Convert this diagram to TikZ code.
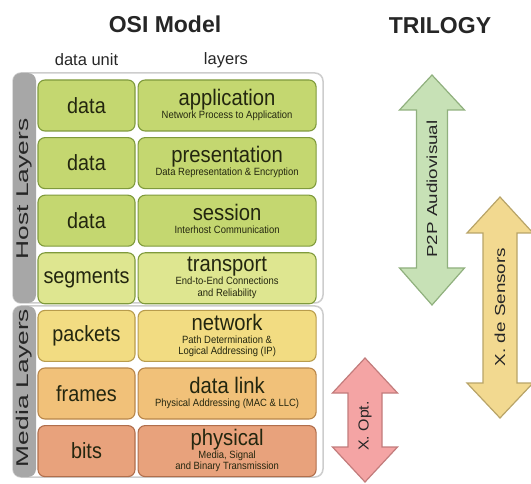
\documentclass[tikz,border=0pt]{standalone}
\usepackage{fontspec}
\setmainfont{Liberation Sans}[FakeStretch=0.9]
\newfontfamily\titlefont{Liberation Sans}
\usepackage{xcolor}
\usepackage{tikz}
\usetikzlibrary{positioning}

\definecolor{hostfill}{HTML}{C4D770}
\definecolor{hostdraw}{HTML}{7F9A3C}
\definecolor{transfill}{HTML}{DEE690}
\definecolor{netfill}{HTML}{F2DC82}
\definecolor{netdraw}{HTML}{B89C4C}
\definecolor{linkfill}{HTML}{F1C179}
\definecolor{linkdraw}{HTML}{B8864A}
\definecolor{physfill}{HTML}{E8A27C}
\definecolor{physdraw}{HTML}{B06E4C}
\definecolor{inkdark}{HTML}{23260F}
\definecolor{barfill}{HTML}{A7A7A7}
\definecolor{frameline}{HTML}{CDCDCD}
\definecolor{p2pfill}{HTML}{C7E1B6}
\definecolor{p2pdraw}{HTML}{90B07E}
\definecolor{sensfill}{HTML}{F2D990}
\definecolor{sensdraw}{HTML}{B8A468}
\definecolor{optfill}{HTML}{F4A4A4}
\definecolor{optdraw}{HTML}{C27C7C}

\newcommand{\layertxt}[2]{\begin{tabular}{@{}c@{}}{\fontsize{22.5}{22}\selectfont #1}\\[1.5pt]\begin{tabular}{@{}c@{}}#2\end{tabular}\end{tabular}}

\tikzset{
  rowbox/.style={rectangle, rounded corners=7pt, line width=1.1pt, minimum height=51pt, inner sep=0pt, text=inkdark},
  unit/.style={rowbox, minimum width=97pt, font=\fontsize{22}{24}\selectfont},
  layer/.style={rowbox, minimum width=178pt, font=\fontsize{10.5}{11.5}\selectfont},
  host/.style={fill=hostfill, draw=hostdraw},
  trans/.style={fill=transfill, draw=hostdraw},
  net/.style={fill=netfill, draw=netdraw},
  link/.style={fill=linkfill, draw=linkdraw},
  phys/.style={fill=physfill, draw=physdraw},
  bartext/.style={font=\titlefont\fontsize{17}{18}\selectfont, text=black!85},
  arrowline/.style={line width=1.2pt, line join=miter},
  arrowtext/.style={font=\titlefont\fontsize{14.5}{16}\selectfont, text=black!85}
}

\begin{document}
\begin{tikzpicture}[x=1pt, y=-1pt]
    \useasboundingbox (0,0) rectangle (531,484);

    % titles
    \node [font=\titlefont\bfseries\fontsize{23}{24}\selectfont, text=black!85] (osi) at (165,24) {OSI Model};
    \node [font=\titlefont\bfseries\fontsize{23}{24}\selectfont, text=black!85] (trilogy) at (440,26) {TRILOGY};
    \node [font=\titlefont\fontsize{16.5}{18}\selectfont, text=black!85] (hunit) at (86.5,60) {data unit};
    \node [font=\titlefont\fontsize{16.5}{18}\selectfont, text=black!85] (hlayer) at (226,60) {layers};

    % group frames and side bars
    \draw [frameline, fill=white, line width=1.5pt, rounded corners=8pt] (13,73) rectangle (323,303);
    \draw [frameline, fill=white, line width=1.5pt, rounded corners=8pt] (13,306) rectangle (323,477);
    \fill [barfill, rounded corners=8pt] (13,73) -- (36,73) -- (36,303) -- (13,303) -- cycle;
    \fill [barfill, rounded corners=8pt] (13,306) -- (36,306) -- (36,477) -- (13,477) -- cycle;
    \node [bartext, rotate=90] (hostlab) at (24.5,189) {\scalebox{1.55}[1]{Host Layers}};
    \node [bartext, rotate=90] (medialab) at (24.5,388) {\scalebox{1.55}[1]{Media Layers}};

    % rows
    \node [unit, host] (uapp) at (86.5,105.5) {data};
    \node [layer, host, right=2pt of uapp] (lapp) {\layertxt{application}{Network Process to Application}};
    \node [unit, host, below=5.5pt of uapp] (upres) {data};
    \node [layer, host, right=2pt of upres] (lpres) {\layertxt{presentation}{Data Representation \& Encryption}};
    \node [unit, host, below=5.5pt of upres] (usess) {data};
    \node [layer, host, right=2pt of usess] (lsess) {\layertxt{session}{Interhost Communication}};
    \node [unit, trans, below=5.5pt of usess] (utrans) {segments};
    \node [layer, trans, right=2pt of utrans] (ltrans) {\layertxt{transport}{End-to-End Connections\\and Reliability}};
    \node [unit, net, below=5.5pt of utrans] (unet) {packets};
    \node [layer, net, right=2pt of unet] (lnet) {\layertxt{network}{Path Determination \&\\Logical Addressing (IP)}};
    \node [unit, link, below=5.5pt of unet] (ulink) {frames};
    \node [layer, link, right=2pt of ulink] (llink) {\layertxt{data link}{Physical Addressing (MAC \& LLC)}};
    \node [unit, phys, below=5.5pt of ulink] (uphys) {bits};
    \node [layer, phys, right=2pt of uphys] (lphys) {\layertxt{physical}{Media, Signal\\and Binary Transmission}};

    % trilogy arrows
    \draw [arrowline, draw=p2pdraw, fill=p2pfill] (432,75) -- (464.5,110) -- (447.5,110) -- (447.5,268) -- (464.5,268) -- (432,305) -- (399.5,268) -- (416.5,268) -- (416.5,110) -- (399.5,110) -- cycle;
    \node [arrowtext, rotate=90] (p2p) at (432,189) {\scalebox{1.3}[1]{P2P Audiovisual}};

    \draw [arrowline, draw=sensdraw, fill=sensfill] (500,197) -- (533,233) -- (517,233) -- (517,383) -- (533,383) -- (500,418) -- (467,383) -- (483,383) -- (483,233) -- (467,233) -- cycle;
    \node [arrowtext, rotate=90] (sens) at (500,307) {\scalebox{1.3}[1]{X. de Sensors}};

    \draw [arrowline, draw=optdraw, fill=optfill] (365,358) -- (397.5,393) -- (382,393) -- (382,447) -- (397.5,447) -- (365,482) -- (332.5,447) -- (348,447) -- (348,393) -- (332.5,393) -- cycle;
    \node [arrowtext, rotate=90] (opt) at (365,426) {\scalebox{1.1}[1]{X. Opt.}};
\end{tikzpicture}
\end{document}
